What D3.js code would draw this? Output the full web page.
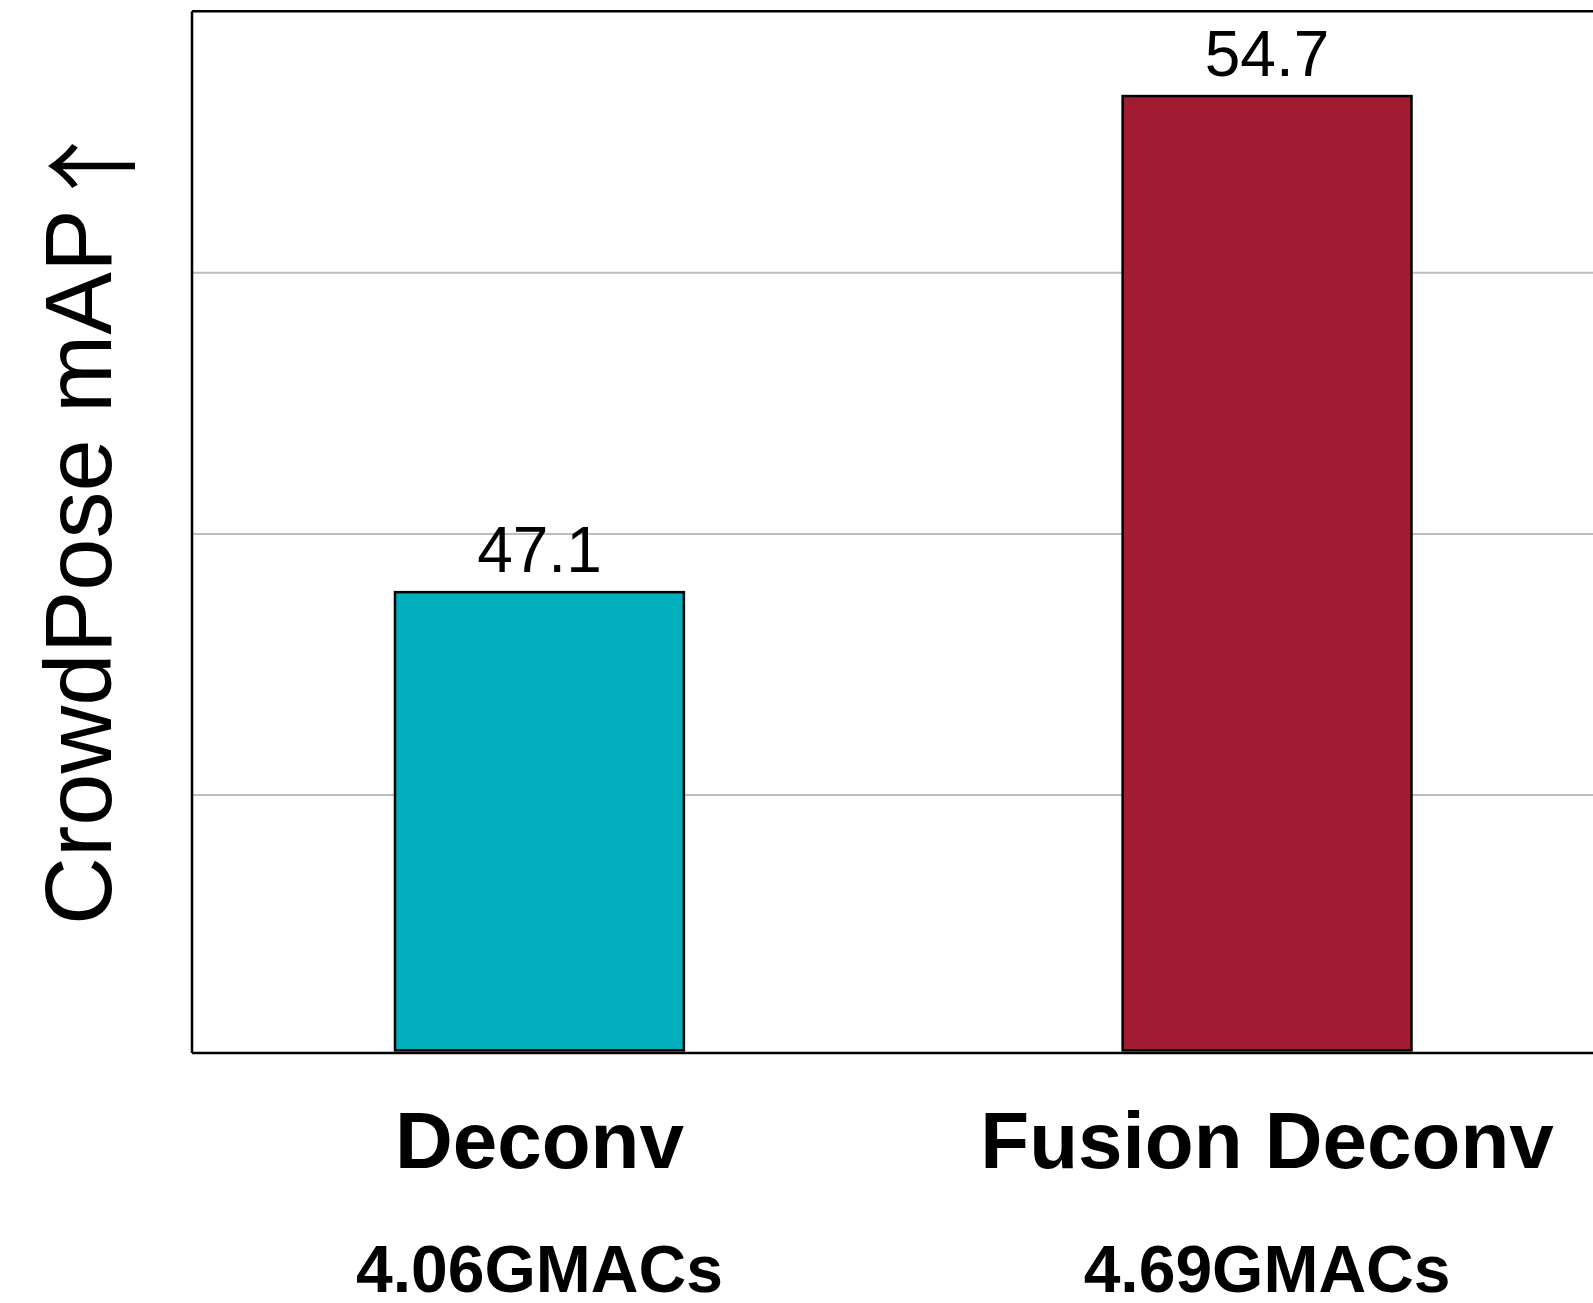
<!DOCTYPE html>
<html>
<head>
<meta charset="utf-8">
<script src="https://cdn.jsdelivr.net/npm/d3@7"></script>
<style>
  html, body { margin: 0; padding: 0; background: #fff; }
  svg { display: block; }
</style>
</head>
<body>
<svg id="chart" width="1593" height="1303"></svg>
<script>
// Model names, compute cost and CrowdPose accuracy
const categories = ["Deconv", "Fusion Deconv"];
const macs = ["4.06GMACs", "4.69GMACs"];
const mapValues = [47.1, 54.7];
const barColors = ["#00AFBB", "#A11B33"];
const gridTicks = [44, 48, 52];
const yDomain = [40.04, 56];
const barBase = 40.08;

const W = 1593, H = 1303;
const plot = { left: 192, top: 11.2, bottom: 1053, right: 1614.5 };

const svg = d3.select("#chart");

const x = d3.scaleBand()
  .domain(categories)
  .range([plot.left, plot.right])
  .paddingInner(0.603)
  .paddingOuter(0.279);

const y = d3.scaleLinear()
  .domain(yDomain)
  .range([plot.bottom, plot.top]);

// horizontal grid
const grid = svg.append("g")
  .attr("transform", `translate(${plot.left},0)`)
  .call(d3.axisLeft(y).tickValues(gridTicks).tickSize(-(W - plot.left)).tickFormat(""));
grid.select(".domain").remove();
grid.selectAll(".tick line").attr("stroke", "#bdbdbd").attr("stroke-width", 2);

// bars
const data = categories.map((c, i) => ({ cat: c, v: mapValues[i], color: barColors[i], macs: macs[i] }));

svg.append("g").selectAll("rect").data(data).join("rect")
  .attr("x", d => x(d.cat))
  .attr("width", x.bandwidth())
  .attr("y", d => y(d.v))
  .attr("height", d => y(barBase) - y(d.v))
  .attr("fill", d => d.color)
  .attr("stroke", "#000")
  .attr("stroke-width", 2.5);

// value labels
svg.append("g").selectAll("text").data(data).join("text")
  .attr("x", d => x(d.cat) + x.bandwidth() / 2)
  .attr("y", d => y(d.v) - 20)
  .attr("text-anchor", "middle")
  .attr("font-family", "'Liberation Sans', Arial, sans-serif")
  .attr("font-size", 64)
  .attr("fill", "#000")
  .text(d => d.v.toFixed(1));

// frame: left, top, bottom (right side runs off the canvas)
const frame = svg.append("g").attr("fill", "none").attr("stroke", "#000").attr("stroke-width", 2.5);
frame.append("line").attr("x1", plot.left).attr("x2", plot.left).attr("y1", y(yDomain[1])).attr("y2", y(yDomain[0]));
frame.append("line").attr("x1", plot.left).attr("x2", W).attr("y1", y(yDomain[1])).attr("y2", y(yDomain[1]));
frame.append("line").attr("x1", plot.left).attr("x2", W).attr("y1", y(yDomain[0])).attr("y2", y(yDomain[0]));

// category labels and compute cost
const xl = svg.append("g")
  .attr("font-family", "'Liberation Sans', Arial, sans-serif")
  .attr("font-weight", "bold")
  .attr("text-anchor", "middle")
  .attr("fill", "#000");
xl.selectAll("text.cat").data(data).join("text")
  .attr("class", "cat")
  .attr("x", d => x(d.cat) + x.bandwidth() / 2)
  .attr("y", 1168)
  .attr("font-size", 80)
  .text(d => d.cat);
xl.selectAll("text.macs").data(data).join("text")
  .attr("class", "macs")
  .attr("x", d => x(d.cat) + x.bandwidth() / 2)
  .attr("y", 1292)
  .attr("font-size", 66)
  .text(d => d.macs);

// y-axis title
const yt = svg.append("text")
  .attr("transform", "translate(111,925) rotate(-90)")
  .attr("text-anchor", "start")
  .attr("font-family", "'Liberation Sans', Arial, sans-serif")
  .attr("font-size", 94)
  .attr("fill", "#000");
yt.append("tspan").text("CrowdPose mAP ");
yt.append("tspan").attr("font-family", "'Noto Sans CJK SC'").attr("dx", -28).attr("dy", 17).text("↑");
</script>
</body>
</html>
